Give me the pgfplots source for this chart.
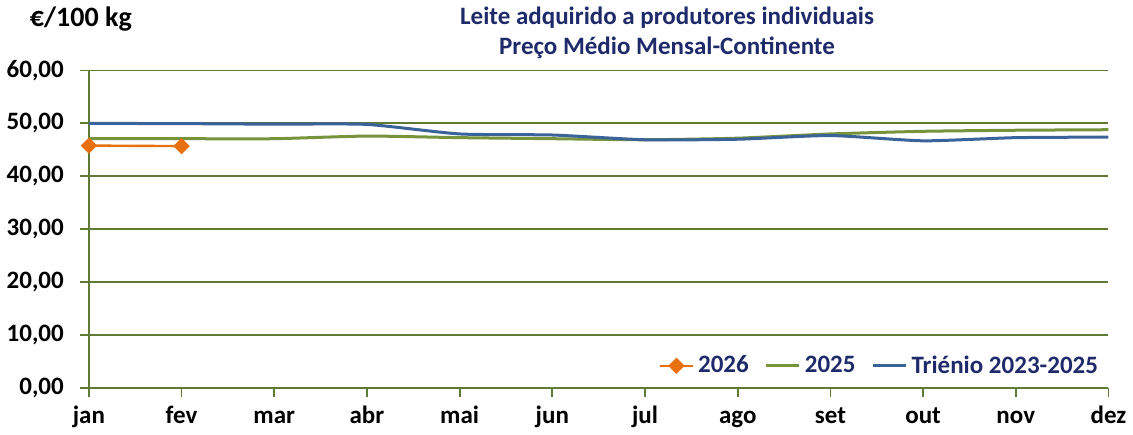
\documentclass[border=0pt]{standalone}
\usepackage{pgfplots}
\pgfplotsset{compat=1.18}
\usepackage{fontspec}
\setmainfont{Carlito}
\definecolor{navy}{HTML}{1F2A6B}
\definecolor{olive}{HTML}{5E7A35}
\definecolor{cor}{HTML}{E8700F}
\definecolor{cgr}{HTML}{77933C}
\definecolor{cbl}{HTML}{3A6399}
\begin{document}
\begin{tikzpicture}
\begin{axis}[
  scale only axis,
  width=509.5pt, height=158.5pt,
  xmin=0, xmax=11, ymin=0, ymax=60,
  xtick={0,...,11},
  xticklabels={jan,fev,mar,abr,mai,jun,jul,ago,set,out,nov,dez},
  ytick={0,10,...,60},
  axis x line=bottom, axis y line=left,
  axis line style={olive, line width=0.9pt, -},
  tick style={olive, line width=0.9pt},
  tick align=outside,
  major tick length=4.5pt,
  ymajorgrids, grid style={olive, line width=0.9pt},
  /pgf/number format/assume math mode=true,
  yticklabel={\pgfmathprintnumber[fixed,fixed zerofill,precision=2,use comma]{\tick}},
  ticklabel style={font=\fontsize{12.5}{15}\selectfont\bfseries, text=black},
  yticklabel style={xshift=-4.5pt},
  xticklabel style={text height=1.6ex, text depth=0.45ex, yshift=-2pt},
  clip=false,
  legend style={at={(rel axis cs:1.0,0.01)}, anchor=south east, draw=none, fill=none,
    font=\fontsize{12.5}{15}\selectfont\bfseries, text=navy, legend columns=3,
    /tikz/every even column/.append style={column sep=6pt}},
  legend image code/.code={\draw[#1] (0cm,0cm) -- (0.58cm,0cm) plot coordinates {(0.29cm,0cm)};},
]
\addplot[cor, line width=1.2pt, mark=square*, mark size=2.3pt, mark options={fill=cor, draw=cor, rotate=45}] coordinates {(0,45.8) (1,45.7)};
\addlegendentry{2026}
\addplot[cgr, line width=1.5pt, smooth, tension=0.35] coordinates {
(0,47.1) (1,47.1) (2,47.1) (3,47.6) (4,47.3) (5,47.1) (6,46.9) (7,47.2) (8,48.0) (9,48.5) (10,48.7) (11,48.8)};
\addlegendentry{2025}
\addplot[cbl, line width=1.5pt, smooth, tension=0.35] coordinates {
(0,50.0) (1,49.95) (2,49.85) (3,49.8) (4,48.0) (5,47.8) (6,46.9) (7,47.0) (8,47.7) (9,46.7) (10,47.3) (11,47.4)};
\addlegendentry{Triénio 2023-2025}
\node[anchor=west, font=\fontsize{14}{16}\selectfont\bfseries] at ([xshift=-33pt, yshift=25.5pt]rel axis cs:0,1) {€/100 kg};
\node[anchor=south, align=center, text=navy, font=\fontsize{12.5}{15}\selectfont\bfseries] at ([yshift=2.5pt]rel axis cs:0.567,1) {Leite adquirido a produtores individuais\\Preço Médio Mensal-Continente};
\end{axis}
\end{tikzpicture}
\end{document}
